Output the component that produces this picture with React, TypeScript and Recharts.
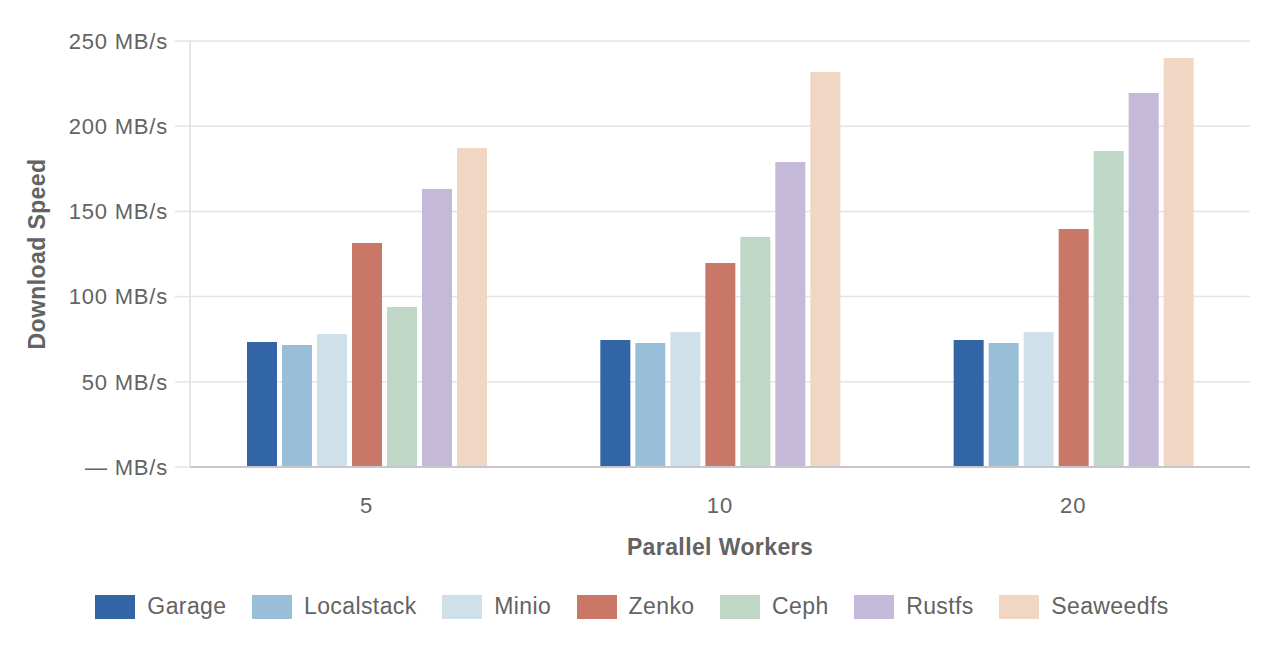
import { BarChart, Bar, XAxis, YAxis, CartesianGrid, Legend } from 'recharts';

const workers = ['5', '10', '20'];
const garage = [73.4, 74.5, 74.5];
const localstack = [71.6, 72.8, 72.8];
const minio = [78, 79.2, 79.2];
const zenko = [131.5, 119.7, 139.7];
const ceph = [93.9, 135, 185.4];
const rustfs = [163.1, 179, 219.5];
const seaweedfs = [187.2, 231.8, 240];
const yTicks = [0, 50, 100, 150, 200, 250];

const series = [
  { key: 'garage', name: 'Garage', color: '#3165a5', values: garage },
  { key: 'localstack', name: 'Localstack', color: '#99bfd8', values: localstack },
  { key: 'minio', name: 'Minio', color: '#d0e0ea', values: minio },
  { key: 'zenko', name: 'Zenko', color: '#c97868', values: zenko },
  { key: 'ceph', name: 'Ceph', color: '#bfd7c7', values: ceph },
  { key: 'rustfs', name: 'Rustfs', color: '#c4b9d8', values: rustfs },
  { key: 'seaweedfs', name: 'Seaweedfs', color: '#f2d6c4', values: seaweedfs },
];

const data = workers.map((w, i) => {
  const row: Record<string, string | number> = { workers: w };
  series.forEach((s) => {
    row[s.key] = s.values[i];
  });
  return row;
});

const font = '"Liberation Sans", Arial, Helvetica, sans-serif';
const textColor = '#636363';

function LegendContent() {
  return (
    <div style={{ display: 'flex', justifyContent: 'center', alignItems: 'center', fontFamily: font, paddingRight: 14 }}>
      {series.map((s) => (
        <div key={s.key} style={{ display: 'flex', alignItems: 'center', margin: '0 12.75px' }}>
          <div style={{ width: 40, height: 24, background: s.color, marginRight: 12 }} />
          <span style={{ fontSize: 23, color: textColor, letterSpacing: 0.4 }}>{s.name}</span>
        </div>
      ))}
    </div>
  );
}

function YTitle(props: any) {
  const { viewBox } = props;
  const cy = viewBox.y + viewBox.height / 2;
  return (
    <text
      x={37}
      y={cy}
      transform={`rotate(-90 37 ${cy})`}
      textAnchor="middle"
      dominantBaseline="central"
      fill={textColor}
      fontFamily={font}
      fontWeight="bold"
      fontSize={23}
      letterSpacing={0.4}
    >
      Download Speed
    </text>
  );
}

function XTitle(props: any) {
  const { viewBox } = props;
  return (
    <text
      x={viewBox.x + viewBox.width / 2}
      y={555}
      textAnchor="middle"
      fill={textColor}
      fontFamily={font}
      fontWeight="bold"
      fontSize={23}
      letterSpacing={0.4}
    >
      Parallel Workers
    </text>
  );
}

export default function App() {
  return (
    <div style={{ position: 'absolute', left: 0, top: 0, width: 1278, height: 650, background: '#fff' }}>
      <BarChart
        width={1278}
        height={650}
        data={data}
        margin={{ top: 41, right: 28, bottom: 83, left: 0 }}
        barSize={30}
        barGap={5}
      >
        <CartesianGrid vertical={false} stroke="#e3e3e8" strokeWidth={1.5} />
        <XAxis
          dataKey="workers"
          height={100}
          tickLine={false}
          axisLine={{ stroke: '#c6c6cc', strokeWidth: 2 }}
          tickSize={0}
          tickMargin={30}
          tick={{ fill: textColor, fontSize: 22, fontFamily: font, letterSpacing: 1 }}
          label={<XTitle />}
        />
        <YAxis
          width={190}
          domain={[0, 250]}
          ticks={yTicks}
          interval={0}
          tickFormatter={(v: number) => (v === 0 ? '— MB/s' : `${v} MB/s`)}
          tickSize={15}
          tickMargin={7}
          tickLine={{ stroke: '#e3e3e8', strokeWidth: 1.5 }}
          axisLine={{ stroke: '#dcdce0', strokeWidth: 1.5 }}
          tick={{ fill: textColor, fontSize: 22, fontFamily: font, letterSpacing: 0.8 }}
          label={<YTitle />}
        />
        <Legend
          verticalAlign="middle"
          layout="horizontal"
          wrapperStyle={{ top: 593, left: 0, width: 1278 }}
          content={<LegendContent />}
        />
        {series.map((s) => (
          <Bar key={s.key} dataKey={s.key} name={s.name} fill={s.color} isAnimationActive={false} />
        ))}
      </BarChart>
    </div>
  );
}
